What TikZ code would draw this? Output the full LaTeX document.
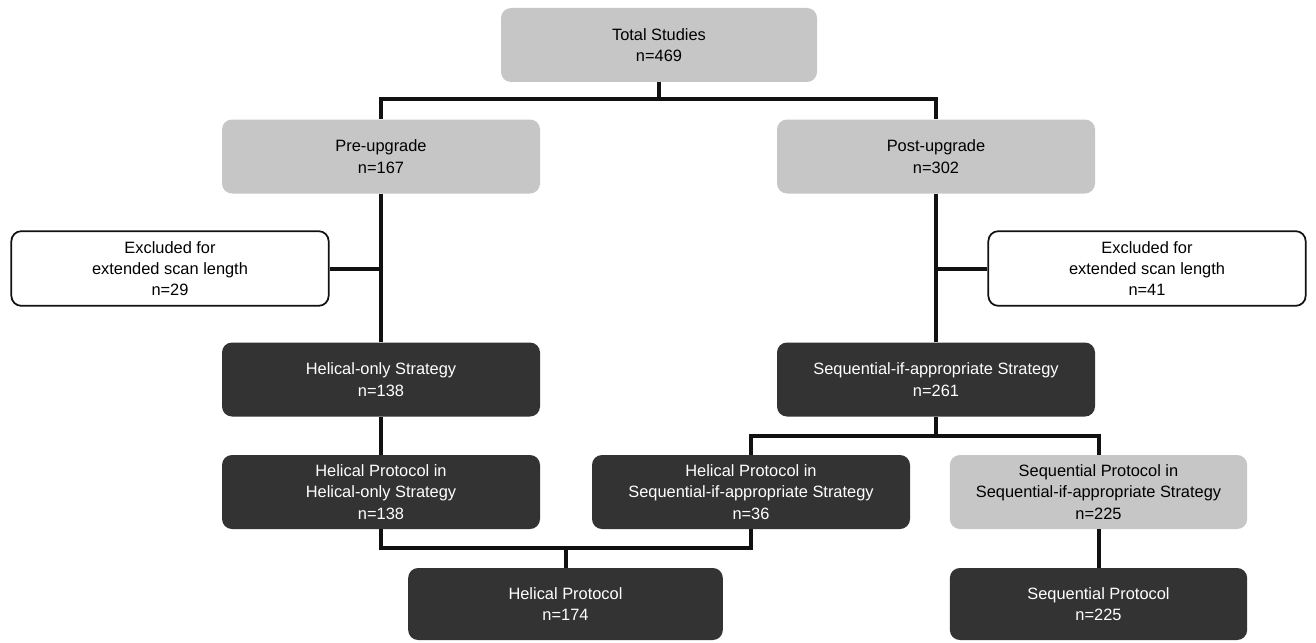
\documentclass[tikz,border=0pt]{standalone}
\usepackage{fontspec}
\setmainfont{Liberation Sans}
\definecolor{lightbox}{HTML}{C6C6C6}
\definecolor{darkbox}{HTML}{333333}
\definecolor{lineblack}{HTML}{111111}
\begin{document}
\begin{tikzpicture}[x=0.75pt,y=-0.75pt,
  base/.style={rounded corners=7.5pt, inner sep=0pt, align=center,
    minimum width=238.5pt, minimum height=55.5pt,
    font=\fontsize{12.3}{16}\selectfont},
  lightnode/.style={base, fill=lightbox, text=black},
  darknode/.style={base, fill=darkbox, text=white},
  exclnode/.style={base, fill=white, draw=lineblack, line width=1.3pt, minimum width=238pt, minimum height=56pt},
  conn/.style={line width=3pt, draw=lineblack}]
\useasboundingbox (0,0) rectangle (1316,642);

\node[lightnode, minimum width=237pt] (total) at (659,45) {Total Studies\\n=469};
\node[lightnode] (pre) at (381,156.5) {Pre-upgrade\\n=167};
\node[lightnode] (post) at (936,156.5) {Post-upgrade\\n=302};
\node[exclnode] (exL) at (170,268.5) {Excluded for\\extended scan length\\n=29};
\node[exclnode] (exR) at (1147,268.5) {Excluded for\\extended scan length\\n=41};
\node[darknode] (hos) at (381,379.5) {Helical-only Strategy\\n=138};
\node[darknode] (sis) at (936,379.5) {Sequential-if-appropriate Strategy\\n=261};
\node[darknode] (hph) at (381,492) {Helical Protocol in\\Helical-only Strategy\\n=138};
\node[darknode] (hps) at (751,492) {Helical Protocol in\\Sequential-if-appropriate Strategy\\n=36};
\node[lightnode, minimum width=223pt] (sps) at (1098.5,492) {Sequential Protocol in\\Sequential-if-appropriate Strategy\\n=225};
\node[darknode, minimum width=236pt, minimum height=54pt] (hp) at (565.5,604) {Helical Protocol\\n=174};
\node[darknode, minimum width=223pt, minimum height=54pt] (sp) at (1098.5,604) {Sequential Protocol\\n=225};

\coordinate (j1) at (659,99);
\coordinate (j2) at (936,436);
\coordinate (j3) at (565.5,548);

\draw[conn] (total.south) -- (j1);
\draw[conn] (pre.north) |- (j1) -| (post.north);
\draw[conn] (pre.south) -- (hos.north);
\draw[conn] (post.south) -- (sis.north);
\draw[conn] (exL.east) -- (exL.east -| pre.south);
\draw[conn] (exR.west) -- (exR.west -| post.south);
\draw[conn] (hos.south) -- (hph.north);
\draw[conn] (sis.south) -- (j2);
\draw[conn] (hps.north) |- (j2) -| (sps.north);
\draw[conn] (hph.south) |- (j3) -| (hps.south);
\draw[conn] (j3) -- (hp.north);
\draw[conn] (sps.south) -- (sp.north);
\end{tikzpicture}
\end{document}
